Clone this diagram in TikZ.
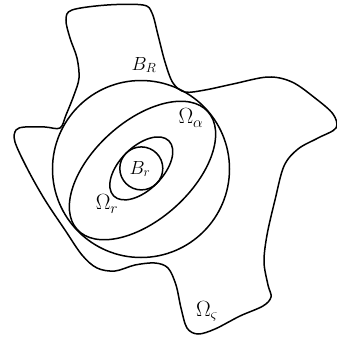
\RequirePackage{fix-cm}
\documentclass[tikz,border=0pt]{standalone}
\usepackage{amsmath,amssymb}
\usetikzlibrary{calc}
\tikzset{
    every node/.style={font=\fontsize{19}{23}\selectfont},
    region/.style={line width=1.5pt, black},
    setlabel/.style={inner sep=1pt},
    omegalabel/.style={inner sep=1pt, font=\fontsize{22}{26}\selectfont},
}

\begin{document}
\begin{tikzpicture}[x=1pt, y=-1pt]
    \useasboundingbox (0,0) rectangle (337,341);

    % Centres
    \coordinate (cR) at (141,169);
    \coordinate (ca) at (142.5,170.5);
    \coordinate (cr) at (141.3,168.4);

    % Outer domain
    \draw[region] plot[smooth cycle, tension=0.55] coordinates {
        (72,10) (107,5) (143,5) (152,13) (158,35) (165,62) (173,83)
        (185,92) (205,90) (233,84) (268,77) (292,82) (315,98) (333,114)
        (336,128) (318,138) (298,149) (284,166) (275,200) (267,235)
        (264,262) (268,285) (271,297) (263,306) (240,316) (215,329)
        (198,334) (187,328) (181,308) (176,285) (168,268) (155,263)
        (135,265) (115,271) (97,268) (82,255) (65,230) (45,200) (28,170)
        (15,142) (16,130) (25,127) (45,127) (60,128) (66,115) (74,95)
        (79,78) (77,58) (70,38) (66,20)};

    % Big ball and its ellipse
    \draw[region] (cR) circle (88.5);
    \draw[region, rotate around={42:(ca)}] (ca) ellipse [x radius=88, y radius=49];

    % Small ellipse and small ball
    \draw[region, rotate around={45:(cr)}] (cr) ellipse [x radius=39, y radius=21.5];
    \draw[region] (cr) circle (21.5);

    % Labels
    \node[setlabel] (lBR) at (144,65) {$B_R$};
    \node[omegalabel] (lOa) at (191,118) {$\Omega_\alpha$};
    \node[setlabel] (lBr) at (140,169) {$B_r$};
    \node[omegalabel] (lOr) at (107,204) {$\Omega_r$};
    \node[omegalabel] (lOs) at (207,311) {$\Omega_\varsigma$};
\end{tikzpicture}
\end{document}
